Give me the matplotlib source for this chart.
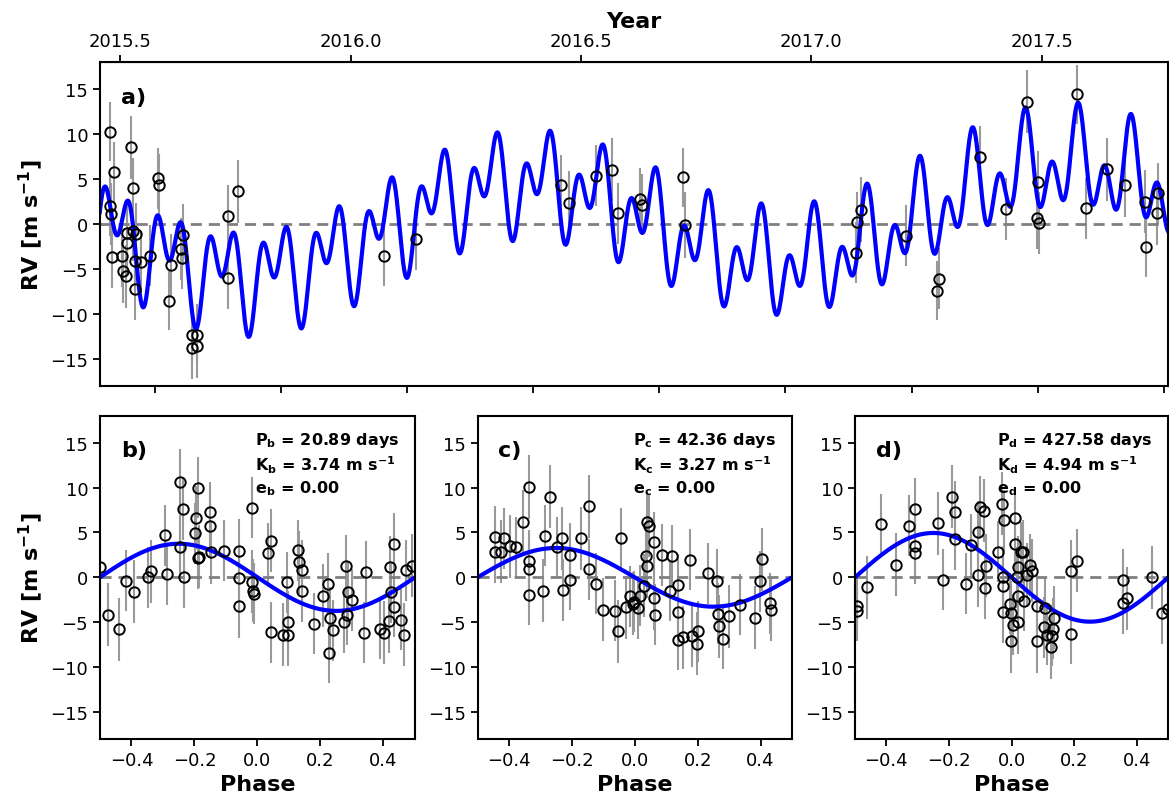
import numpy as np
import matplotlib
matplotlib.use("Agg")
import matplotlib.pyplot as plt
from matplotlib.ticker import MultipleLocator, NullFormatter

plt.rcParams['mathtext.default'] = 'bf'

# ---- time series (days, BJD offset) ----
t_obs = [164.3, 167.5, 164.6, 165.0, 165.7, 180.7, 182.8, 173.6, 174.9, 176.8,
         177.6, 177.6, 182.8, 184.7, 184.1, 184.1, 188.9, 196.0, 202.6, 203.4,
         212.7, 211.1, 220.6, 221.7, 222.4, 229.1, 233.1, 229.1, 233.1, 257.7,
         257.7, 265.6, 381.6, 406.8, 522.0, 528.3, 549.5, 562.2, 567.4, 584.7,
         586.0, 619.0, 620.3, 756.5, 759.7, 756.0, 795.4, 821.8, 820.5, 854.3,
         874.7, 891.3, 900.1, 899.3, 901.3, 931.5, 938.4, 955.3, 969.3, 985.2,
         986.0, 995.7, 994.9]
rv_obs = [10.26, 5.74, 2.04, 1.11, -3.63, 8.52, 4.0, -3.52, -5.26, -5.82,
          -1.04, -2.15, -0.74, -1.11, -4.07, -7.22, -4.26, -3.52, 5.11, 4.37,
          -4.56, -8.52, -2.78, -3.78, -1.19, -12.4, -12.3, -13.8, -13.6, 0.93,
          -6.04, 3.63, -3.6, -1.67, 4.33, 2.33, 5.37, 6.04, 1.19, 2.78,
          2.15, 5.19, -0.11, 0.19, 1.59, -3.22, -1.3, -6.11, -7.41, 7.48,
          1.67, 13.63, 4.7, 0.67, 0.11, 14.44, 1.74, 6.11, 4.33, 2.48,
          -2.52, 3.41, 1.19]
err_obs = [3.3, 3.4, 3.4, 3.4, 3.5, 3.5, 3.4, 3.5, 3.5, 3.5,
           3.5, 3.4, 3.4, 3.4, 3.4, 3.5, 3.4, 3.4, 3.4, 3.4,
           3.4, 3.3, 3.4, 3.4, 3.4, 3.4, 3.4, 3.4, 3.5, 3.4,
           3.4, 3.5, 3.3, 3.5, 3.4, 3.6, 3.4, 3.5, 3.4, 3.4,
           3.4, 3.3, 3.7, 3.4, 3.6, 3.4, 3.4, 3.4, 3.3, 3.4,
           3.5, 3.5, 3.4, 3.4, 3.4, 3.3, 3.4, 3.5, 3.6, 3.5,
           3.4, 3.4, 3.5]

# ---- fitted planets ----
planets = ['b', 'c', 'd']
period = [20.89, 42.36, 427.58]
semi_amp = [3.74, 3.27, 4.94]
ecc = [0.00, 0.00, 0.00]
t_ref = [268.9, 264.7, 596.3]
trend = [0.058, 0.003517, 4.03e-6]   # const, linear, quadratic about t=600
t_trend = 600.0

# ---- phase folded data ----
phase_b = [-0.5, -0.476, -0.439, -0.417, -0.393, -0.347, -0.337, -0.292, -0.287, -0.247,
           -0.245, -0.236, -0.234, -0.199, -0.194, -0.188, -0.188, -0.185, -0.151, -0.151,
           -0.147, -0.106, -0.06, -0.06, -0.058, -0.016, -0.016, -0.014, -0.011, 0.034,
           0.043, 0.043, 0.081, 0.096, 0.094, 0.098, 0.129, 0.131, 0.14, 0.142,
           0.178, 0.209, 0.225, 0.231, 0.240, 0.228, 0.274, 0.283, 0.282, 0.287,
           0.301, 0.338, 0.343, 0.388, 0.402, 0.422, 0.425, 0.434, 0.434, 0.419,
           0.455, 0.465, 0.47, 0.491]
rv_b = [1.2, -4.15, -5.81, -0.37, -1.59, 0.0, 0.66, 4.7, 0.37, 10.66,
        3.4, 7.66, 0.07, 4.92, 6.66, 10.0, 2.11, 2.29, 7.22, 5.74,
        2.77, 2.96, 2.96, -0.08, -3.22, 7.77, -0.48, -1.48, -1.85, 2.7,
        4.07, -6.11, -6.4, -6.4, -0.56, -5.0, 3.03, 1.66, 0.81, -1.48,
        -5.18, -2.04, -0.74, -4.55, -5.92, -8.4, -4.92, -4.15, 1.22, -1.67,
        -2.52, -6.18, 0.55, -5.74, -6.18, 1.11, -1.67, 3.7, -3.26, -4.89,
        -4.7, -6.4, 0.81, 1.29]
err_b = [3.4, 3.5, 3.5, 3.4, 3.5, 3.4, 3.5, 3.4, 3.5, 3.6,
         3.5, 3.5, 3.5, 3.4, 3.5, 3.4, 3.4, 3.5, 3.4, 3.5,
         3.5, 3.4, 3.5, 3.4, 3.5, 3.4, 3.5, 3.5, 3.4, 3.4,
         3.5, 3.4, 3.5, 3.5, 3.4, 3.5, 3.4, 3.5, 3.4, 3.5,
         3.4, 3.5, 3.4, 3.5, 3.4, 3.4, 3.5, 3.4, 3.5, 3.4,
         3.5, 3.4, 3.5, 3.4, 3.5, 3.5, 3.4, 3.5, 3.4, 3.5,
         3.4, 3.5, 3.4, 3.5]

phase_c = [-0.444, -0.444, -0.426, -0.417, -0.398, -0.378, -0.356, -0.337, -0.337, -0.337,
           -0.335, -0.291, -0.284, -0.268, -0.247, -0.231, -0.229, -0.206, -0.206, -0.172,
           -0.146, -0.144, -0.122, -0.1, -0.064, -0.052, -0.043, -0.029, -0.015, -0.007,
           -0.002, 0.011, 0.017, 0.03, 0.035, 0.04, 0.04, 0.044, 0.06, 0.06,
           0.064, 0.088, 0.112, 0.118, 0.136, 0.138, 0.138, 0.152, 0.177, 0.181,
           0.2, 0.198, 0.234, 0.262, 0.266, 0.269, 0.28, 0.301, 0.336, 0.383,
           0.397, 0.404, 0.429, 0.432]
rv_c = [4.44, 2.77, 2.84, 4.33, 3.44, 3.33, 6.18, 10.07, 1.85, 0.92,
        -1.93, -1.48, 4.63, 8.96, 3.33, 4.33, -1.41, 2.51, -0.26, 4.33,
        0.92, 7.89, -0.74, -3.6, -3.7, -6.03, 4.37, -3.33, -2.11, -2.96,
        -2.7, -3.4, -2.03, -0.93, 2.33, 1.22, 6.11, 5.74, 3.89, -2.33,
        -4.18, 2.48, -1.48, 2.33, -3.89, -0.85, -6.96, -6.66, 1.96, -6.48,
        -6.03, -7.4, 0.44, -0.37, -4.07, -5.44, -6.85, -4.33, -3.03, -4.52,
        -0.44, 2.03, -2.89, -3.63]
err_c = [3.5, 3.4, 3.5, 3.4, 3.5, 3.4, 3.5, 3.6, 3.4, 3.5,
         3.4, 3.5, 3.4, 3.5, 3.4, 3.5, 3.4, 3.5, 3.4, 3.5,
         3.4, 3.5, 3.4, 3.5, 3.4, 3.5, 3.4, 3.5, 3.4, 3.5,
         3.4, 3.5, 3.4, 3.5, 3.4, 3.5, 3.4, 3.5, 3.4, 3.5,
         3.4, 3.5, 3.4, 3.5, 3.4, 3.5, 3.4, 3.5, 3.4, 3.5,
         3.4, 3.5, 3.4, 3.5, 3.4, 3.5, 3.4, 3.5, 3.4, 3.5,
         3.4, 3.5, 3.4, 3.5]

phase_d = [-0.493, -0.493, -0.462, -0.416, -0.369, -0.328, -0.307, -0.307, -0.31, -0.236,
           -0.218, -0.19, -0.18, -0.18, -0.146, -0.13, -0.108, -0.106, -0.101, -0.087,
           -0.085, -0.082, -0.045, -0.031, -0.023, -0.029, -0.029, -0.027, -0.004, -0.002,
           0.003, -0.002, 0.012, 0.012, 0.017, 0.019, 0.019, 0.021, 0.03, 0.037,
           0.04, 0.048, 0.06, 0.065, 0.081, 0.081, 0.104, 0.107, 0.112, 0.125,
           0.131, 0.134, 0.128, 0.189, 0.191, 0.208, 0.354, 0.368, 0.357, 0.447,
           0.481, 0.499]
rv_d = [-3.22, -3.7, -1.11, 5.92, 1.4, 5.74, 7.59, 3.51, 2.7, 6.0,
        -0.26, 8.99, 7.29, 4.26, -0.74, 3.59, 5.07, 0.25, 7.88, 7.4,
        -1.19, 1.29, 2.85, 8.22, 6.37, 0.0, -0.93, -3.82, -2.96, -3.96,
        -5.3, -7.11, 6.66, 3.7, 0.0, 1.11, -2.03, -5.0, 2.77, 2.85,
        -2.59, 0.29, 1.37, 0.74, -3.15, -7.11, -5.55, -3.44, -6.37, -7.78,
        -5.74, -4.52, -6.48, 0.66, -6.29, 1.85, -2.89, -2.33, -0.26, 0.0,
        -4.0, -3.52]
err_d = [3.5, 3.4, 3.5, 3.4, 3.5, 3.4, 3.5, 3.6, 3.4, 3.5,
         3.4, 3.5, 3.4, 3.5, 3.4, 3.5, 3.4, 3.5, 3.4, 3.5,
         3.4, 3.5, 3.4, 3.5, 3.4, 3.5, 3.4, 3.5, 3.4, 3.5,
         3.4, 3.5, 3.4, 3.5, 3.4, 3.5, 3.4, 3.5, 3.4, 3.5,
         3.4, 3.5, 3.4, 3.5, 3.4, 3.5, 3.4, 3.5, 3.4, 3.5,
         3.4, 3.5, 3.4, 3.5, 3.4, 3.5, 3.4, 3.5, 3.4, 3.5,
         3.4, 3.5]

phase_data = [(phase_b, rv_b, err_b), (phase_c, rv_c, err_c), (phase_d, rv_d, err_d)]
panel_tags = ['b)', 'c)', 'd)']

year_ticks = [2015.5, 2016.0, 2016.5, 2017.0, 2017.5]
t_year_ref = 172.6     # day of 2015.5


def toYear(t):
    return 2015.5 + (np.asarray(t) - t_year_ref) / 365.25


def toDay(y):
    return t_year_ref + (np.asarray(y) - 2015.5) * 365.25


def keplerCircular(t, P, K, T0):
    return -K * np.sin(2.0 * np.pi * (t - T0) / P)


def styleAxis(ax):
    for s in ax.spines.values():
        s.set_linewidth(1.5)
    ax.tick_params(direction='out', length=5, width=1.3, labelsize=13)
    ax.set_ylim(-18, 18)
    ax.set_yticks([-15, -10, -5, 0, 5, 10, 15])
    ax.axhline(0.0, color='gray', lw=2, ls=(0, (4, 2.5)), zorder=1.5)


def drawPoints(ax, x, y, e):
    ax.errorbar(x, y, yerr=e, fmt='none', ecolor='0.6', elinewidth=1.5, zorder=1)
    ax.plot(x, y, 'o', mfc='none', mec='k', ms=7.5, mew=1.4, zorder=3)


def tag(ax, label):
    ax.annotate(label, xy=(0, 1), xycoords='axes fraction', xytext=(15, -29),
                textcoords='offset points', fontsize=16, fontweight='bold', va='baseline')


fig = plt.figure(figsize=(11.69, 8.03), dpi=100)

# ---- a) time series ----
ax = fig.add_axes([0.0855, 0.5184, 0.9136, 0.4028])
styleAxis(ax)
t_grid = np.linspace(150, 1010, 4000)
model = trend[0] + trend[1] * (t_grid - t_trend) + trend[2] * (t_grid - t_trend) ** 2
for P, K, T0 in zip(period, semi_amp, t_ref):
    model = model + keplerCircular(t_grid, P, K, T0)
ax.plot(t_grid, model, color='blue', lw=3, zorder=2)
drawPoints(ax, t_obs, rv_obs, err_obs)
ax.set_xlim(156.4, 1003.3)
ax.xaxis.set_major_locator(MultipleLocator(100))
ax.xaxis.set_major_formatter(NullFormatter())
ax.set_ylabel(r'RV [m s$^{-1}$]', fontsize=16, fontweight='bold')
tag(ax, 'a)')

top = ax.secondary_xaxis('top', functions=(toYear, toDay))
top.set_xticks(year_ticks)
top.set_xticklabels(['%.1f' % y for y in year_ticks])
top.tick_params(direction='out', length=5, width=1.3, labelsize=13)
top.set_xlabel('Year', fontsize=16, fontweight='bold')

# ---- b), c), d) phase folded ----
lefts = [0.0855, 0.4085, 0.7314]
widths = [0.2695, 0.2690, 0.2680]
phase_grid = np.linspace(-0.5, 0.5, 500)
for i in range(3):
    axp = fig.add_axes([lefts[i], 0.0785, widths[i], 0.4026])
    styleAxis(axp)
    ph, rv, er = phase_data[i]
    axp.plot(phase_grid, -semi_amp[i] * np.sin(2.0 * np.pi * phase_grid),
             color='blue', lw=3, zorder=2)
    drawPoints(axp, ph, rv, er)
    axp.set_xlim(-0.5, 0.5)
    axp.set_xticks([-0.4, -0.2, 0.0, 0.2, 0.4])
    axp.set_xlabel('Phase', fontsize=16, fontweight='bold')
    if i == 0:
        axp.set_ylabel(r'RV [m s$^{-1}$]', fontsize=16, fontweight='bold')
    tag(axp, panel_tags[i])
    p = planets[i]
    txt = (r'P$_{%s}$ = %.2f days' % (p, period[i]) + '\n' +
           r'K$_{%s}$ = %.2f m s$^{-1}$' % (p, semi_amp[i]) + '\n' +
           r'e$_{%s}$ = %.2f' % (p, ecc[i]))
    axp.text(0.95, 0.955, txt, transform=axp.transAxes, ha='right', va='top',
             multialignment='left', fontsize=11.5, fontweight='bold', linespacing=1.25)

fig.savefig('out.png', dpi=100)
